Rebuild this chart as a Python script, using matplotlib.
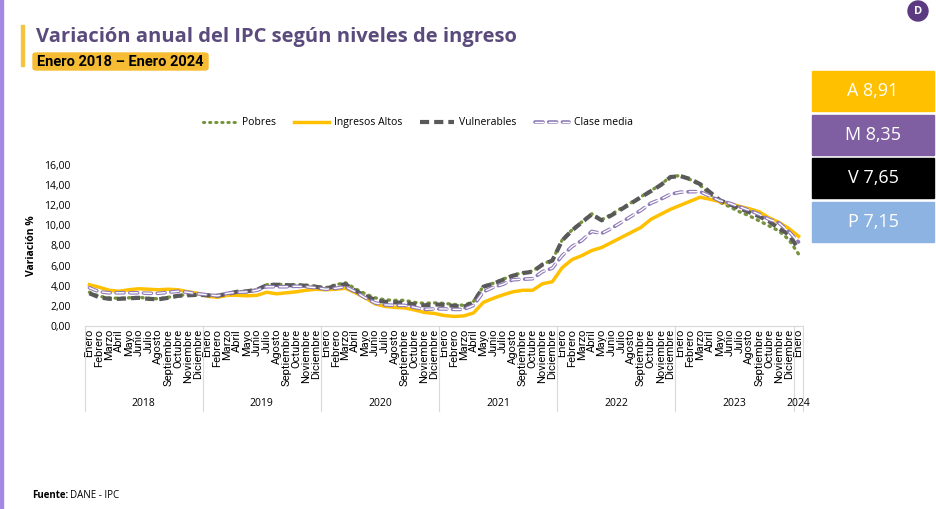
import numpy as np
import matplotlib
matplotlib.use('Agg')
import matplotlib.pyplot as plt
from matplotlib.lines import Line2D
from matplotlib.patches import Rectangle, FancyBboxPatch, Ellipse
import matplotlib.transforms as mtransforms

plt.rcParams['font.family'] = ['Open Sans', 'DejaVu Sans']

MONTHS = ['Enero', 'Febrero', 'Marzo', 'Abril', 'Mayo', 'Junio', 'Julio', 'Agosto',
          'Septiembre', 'Octubre', 'Noviembre', 'Diciembre']
YEARS = ['2018', '2019', '2020', '2021', '2022', '2023', '2024']
month_labels = MONTHS * 6 + ['Enero']

# annual CPI variation (%) by income level, Jan 2018 .. Jan 2024
pobres = [3.35, 2.95, 2.80, 2.75, 2.80, 2.85, 2.75, 2.70, 2.85, 3.05, 3.10, 3.10,
          3.05, 3.00, 3.20, 3.40, 3.45, 3.60, 4.10, 4.15, 4.10, 4.10, 4.05, 3.95,
          3.80, 4.10, 4.30, 3.70, 3.20, 2.80, 2.60, 2.55, 2.55, 2.35, 2.25, 2.30,
          2.25, 2.15, 2.05, 2.45, 3.95, 4.25, 4.65, 5.05, 5.30, 5.45, 6.15, 6.55,
          8.55, 9.55, 10.35, 11.15, 10.55, 11.10, 11.70, 12.25, 12.85, 13.45, 14.05, 14.85,
          14.95, 14.55, 14.00, 13.10, 12.30, 11.85, 11.35, 10.95, 10.45, 9.95, 9.45, 8.60,
          7.15]
ingresos_altos = [4.10, 3.85, 3.55, 3.45, 3.60, 3.70, 3.65, 3.60, 3.65, 3.60, 3.40, 3.25,
                  2.95, 2.85, 3.05, 3.05, 3.00, 3.05, 3.35, 3.20, 3.30, 3.40, 3.55, 3.65,
                  3.60, 3.65, 3.75, 3.30, 2.80, 2.20, 1.95, 1.85, 1.80, 1.60, 1.35, 1.25,
                  1.05, 0.95, 1.00, 1.30, 2.35, 2.75, 3.10, 3.40, 3.55, 3.55, 4.20, 4.40,
                  5.80, 6.60, 7.00, 7.50, 7.80, 8.30, 8.80, 9.30, 9.80, 10.60, 11.10, 11.60,
                  12.00, 12.40, 12.80, 12.60, 12.35, 12.15, 11.90, 11.65, 11.35, 10.75, 10.30, 9.70,
                  8.91]
vulnerables = [3.25, 2.85, 2.70, 2.70, 2.75, 2.80, 2.70, 2.65, 2.80, 3.00, 3.05, 3.10,
               3.05, 3.00, 3.20, 3.40, 3.45, 3.60, 4.05, 4.10, 4.05, 4.05, 4.00, 3.90,
               3.70, 4.00, 4.15, 3.50, 3.00, 2.60, 2.40, 2.35, 2.30, 2.15, 2.05, 2.15,
               2.10, 2.00, 1.90, 2.35, 3.90, 4.20, 4.60, 5.00, 5.25, 5.40, 6.10, 6.50,
               8.50, 9.50, 10.30, 11.10, 10.50, 11.00, 11.60, 12.20, 12.80, 13.40, 14.00, 14.80,
               14.90, 14.60, 14.10, 13.30, 12.50, 12.10, 11.70, 11.30, 10.90, 10.40, 9.70, 9.10,
               7.65]
clase_media = [3.80, 3.40, 3.30, 3.30, 3.30, 3.30, 3.25, 3.25, 3.35, 3.45, 3.35, 3.20,
               3.10, 3.00, 3.25, 3.35, 3.40, 3.55, 3.90, 3.90, 3.90, 3.95, 3.90, 3.80,
               3.65, 3.75, 3.90, 3.40, 2.80, 2.30, 2.10, 2.05, 2.05, 1.85, 1.65, 1.70,
               1.70, 1.65, 1.65, 2.05, 3.40, 3.85, 4.15, 4.60, 4.65, 4.70, 5.40, 5.75,
               7.00, 7.90, 8.50, 9.40, 9.20, 9.70, 10.30, 10.90, 11.50, 12.20, 12.60, 13.10,
               13.30, 13.35, 13.35, 12.90, 12.45, 12.20, 11.85, 11.50, 11.10, 10.60, 10.25, 9.40,
               8.35]

box_labels = ['A 8,91', 'M 8,35', 'V 7,65', 'P 7,15']
box_colors = ['#ffc000', '#7f5fa1', '#000000', '#8db3e2']

W, H = 936, 509
fig = plt.figure(figsize=(W / 100, H / 100), dpi=100)


def fx(px):
    return px / W


def fy(py):
    return 1 - py / H


# decorations
fig.patches.append(Rectangle((0, 0), fx(3), 1, transform=fig.transFigure,
                             color='#a487e0', zorder=0))
fig.patches.append(Rectangle((fx(21), fy(66)), fx(2.5), 41 / H, transform=fig.transFigure,
                             color='#f5c342', zorder=0))
fig.text(fx(36), fy(37), 'Variación anual del IPC según niveles de ingreso',
         fontsize=14.5, fontweight='bold', color='#5b4b7d', va='center', ha='left')
fig.patches.append(FancyBboxPatch((fx(33), fy(70)), fx(175), 17 / H,
                                  boxstyle='round,pad=0,rounding_size=0.004',
                                  transform=fig.transFigure, color='#f6bd34', zorder=0))
fig.text(fx(37), fy(61.5), 'Enero 2018 – Enero 2024', fontsize=10.5, fontweight='bold',
         family=['Roboto', 'DejaVu Sans'], color='black', va='center', ha='left')

# logo
fig.patches.append(Ellipse((fx(918), fy(11)), 20 / W, 20 / H, transform=fig.transFigure,
                           color='#5b3a82', zorder=1))
fig.text(fx(918.5), fy(11), 'D', color='white', fontsize=8, fontweight='bold',
         ha='center', va='center')

# value boxes
box_tops = [71, 115, 158, 202]
for lab, col, top in zip(box_labels, box_colors, box_tops):
    fig.patches.append(Rectangle((fx(812), fy(top + 40)), fx(122), 40 / H,
                                 transform=fig.transFigure, color=col, zorder=1))
    fig.text(fx(873), fy(top + 20), lab, color='white', fontsize=13, ha='center',
             va='center')

fig.text(fx(32), fy(496), 'Fuente:', fontsize=7, fontweight='bold', va='center')
fig.text(fx(70), fy(496), 'DANE - IPC', fontsize=7, va='center')

# main axes
ax = fig.add_axes([fx(84.5), fy(326), 719 / W, 161 / H])
x = np.arange(len(month_labels))

ax.plot(x, pobres, color='#76933c', lw=2.4, linestyle=(0, (0.4, 1.6)),
        dash_capstyle='round', zorder=3)
ax.plot(x, ingresos_altos, color='#ffc000', lw=2.5, zorder=4)
ax.plot(x, vulnerables, color='#595959', lw=3, linestyle=(0, (2.2, 1.2)), zorder=5)
ax.plot(x, clase_media, color='#8f7ab8', lw=2.6, linestyle=(0, (2.2, 1.6)),
        dash_capstyle='round', zorder=6)
ax.plot(x, clase_media, color='white', lw=1.0, linestyle=(0, (5.7, 4.2)),
        dash_capstyle='round', zorder=7)

ax.set_xlim(-0.5, len(month_labels) - 0.5)
ax.set_ylim(0, 16)
ax.set_yticks(np.arange(0, 17, 2))
ax.set_yticklabels([f'{v:.2f}'.replace('.', ',') for v in np.arange(0, 17, 2)])
ax.set_xticks(x)
ax.set_xticklabels(month_labels, rotation=90, fontsize=8.0, va='top',
                   family=['Roboto', 'DejaVu Sans'])
ax.tick_params(axis='x', length=0, pad=2)
ax.tick_params(axis='y', length=0, pad=10, labelsize=7.5)
for s in ['top', 'right', 'left']:
    ax.spines[s].set_visible(False)
ax.spines['bottom'].set_color('#d9d9d9')
ax.set_ylabel('Variación %', fontsize=7.5, fontweight='bold', labelpad=5)

trans = mtransforms.blended_transform_factory(ax.transData, ax.transAxes)
bounds = [-0.5 + 12 * k for k in range(7)] + [len(month_labels) - 0.5]
for b in bounds:
    ax.plot([b, b], [0, -85 / 161], transform=trans, color='#d9d9d9', lw=0.8,
            clip_on=False)
for k, yr in enumerate(YEARS):
    mid = (bounds[k] + bounds[k + 1]) / 2
    ax.text(mid, -77 / 161, yr, transform=trans, ha='center', va='center', fontsize=7.5)

# legend
h_p = Line2D([], [], color='#76933c', lw=2.2, linestyle=(0, (0.4, 1.6)), dash_capstyle='round')
h_a = Line2D([], [], color='#ffc000', lw=2.5)
h_v = Line2D([], [], color='#595959', lw=3, linestyle=(0, (2.2, 1.2)))
h_m1 = Line2D([], [], color='#8f7ab8', lw=2.6, linestyle=(0, (2.2, 1.6)), dash_capstyle='round')
h_m2 = Line2D([], [], color='white', lw=1.0, linestyle=(0, (5.7, 4.2)), dash_capstyle='round')
fig.legend([h_p, h_a, h_v, (h_m1, h_m2)],
           ['Pobres', 'Ingresos Altos', 'Vulnerables', 'Clase media'],
           loc='center', bbox_to_anchor=(fx(418), fy(123)), ncol=4, frameon=False,
           fontsize=7.5, handlelength=3.3, columnspacing=1.7, handletextpad=0.5)

fig.savefig('out.png', dpi=100)
